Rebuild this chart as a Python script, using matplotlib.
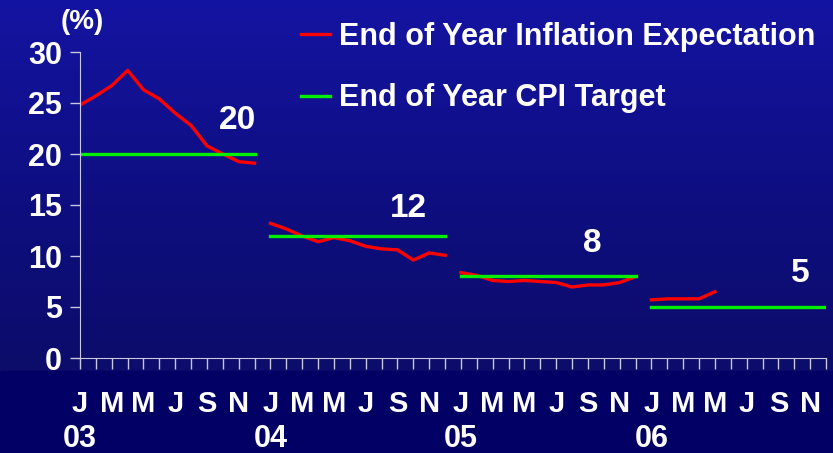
import numpy as np
import matplotlib
matplotlib.use("Agg")
import matplotlib.pyplot as plt
from matplotlib.colors import LinearSegmentedColormap

# ---------------------------------------------------------------------------
# Data (monthly, Jan 2003 .. Dec 2006)
# ---------------------------------------------------------------------------

expect_2003 = [24.8, 25.7, 26.7, 28.2, 26.3, 25.4, 24.0, 22.8, 20.8, 20.0, 19.25, 19.1]
expect_2004 = [13.2, 12.65, 11.96, 11.4, 11.8, 11.5, 10.95, 10.7, 10.6, 9.6, 10.3, 10.07]
expect_2005 = [8.37, 8.1, 7.6, 7.5, 7.6, 7.5, 7.4, 6.96, 7.16, 7.16, 7.4, 7.97]
expect_2006 = [5.7, 5.8, 5.8, 5.8, 6.5]

targets = [20, 12, 8, 5]
years = ["03", "04", "05", "06"]
month_letters = ["J", "M", "M", "J", "S", "N"]

yticks = [0, 5, 10, 15, 20, 25, 30]

# ---------------------------------------------------------------------------
# Figure
# ---------------------------------------------------------------------------

plt.rcParams["font.family"] = ["Liberation Sans", "DejaVu Sans"]
plt.rcParams["font.weight"] = "bold"

W, H = 833, 453
fig = plt.figure(figsize=(W / 100, H / 100), dpi=100)

# background gradient
bg = fig.add_axes([0, 0, 1, 1])
bg.set_axis_off()
cmap = LinearSegmentedColormap.from_list(
    "bg", [(0.0, "#0c0c6a"), (0.45, "#0e0e80"), (1.0, "#1414a2")])
grad = np.linspace(0, 1, 256).reshape(-1, 1)
bg.imshow(grad, aspect="auto", cmap=cmap, origin="lower",
          extent=[0, 1, 82 / H, 1])
bg.axhspan(0, 82 / H, color="#020064")
bg.set_xlim(0, 1)
bg.set_ylim(0, 1)

ax = fig.add_axes([80 / W, 95 / H, (826 - 80) / W, (358 - 52) / H])
ax.patch.set_alpha(0)

series = [expect_2003, expect_2004, expect_2005, expect_2006]
for k, (vals, tgt) in enumerate(zip(series, targets)):
    x0 = 12 * k
    xs = np.arange(x0, x0 + len(vals))
    ax.plot(xs, vals, color="#ff0000", lw=2.4,
            label="End of Year Inflation Expectation" if k == 0 else None)
    ax.plot([x0, x0 + 11], [tgt, tgt], color="#00ee00", lw=2.4,
            label="End of Year CPI Target" if k == 0 else None)

# target value labels
label_pos = [(9.9, 23.3), (20.7, 14.7), (32.3, 11.2), (45.4, 8.3)]
for tgt, (lx, ly) in zip(targets, label_pos):
    ax.text(lx, ly, str(tgt), color="white", fontsize=24, fontweight="bold",
            ha="center", va="center")

ax.set_xlim(0, 47)
ax.set_ylim(0, 30)

for side in ["top", "right"]:
    ax.spines[side].set_visible(False)
ax.spines["left"].set_color("#c8c8e0")
ax.spines["bottom"].set_color("#c8c8e0")

ax.set_yticks(yticks)
ax.set_yticklabels([str(v) for v in yticks], color="white", fontsize=22,
                   fontweight="bold")
ax.tick_params(axis="y", length=7, color="#c8c8e0", pad=6, width=1)

month_labels = []
for k in range(4):
    for m in month_letters:
        month_labels += [m, ""]
ax.set_xticks(np.arange(0, 48))
ax.set_xticklabels(month_labels, color="white", fontsize=21,
                   fontweight="bold")
ax.tick_params(axis="x", length=8, color="#c8c8e0", direction="out",
               width=1, pad=15)

for k, yr in enumerate(years):
    ax.text(12 * k, -7.95, yr, color="white", fontsize=22,
            fontweight="bold", ha="center", va="center", clip_on=False)

fig.text(82 / W, 1 - 22 / H, "(%)", color="white", fontsize=20,
         fontweight="bold", ha="center", va="center")

leg = ax.legend(loc="upper left", bbox_to_anchor=(301 / W, 1 - 22 / H),
                bbox_transform=fig.transFigure, frameon=False,
                borderpad=0, borderaxespad=0,
                handlelength=0.95, handletextpad=0.3,
                labelspacing=1.03, prop={"weight": "bold", "size": 22})
for t in leg.get_texts():
    t.set_color("white")

fig.savefig("out.png", dpi=100)
